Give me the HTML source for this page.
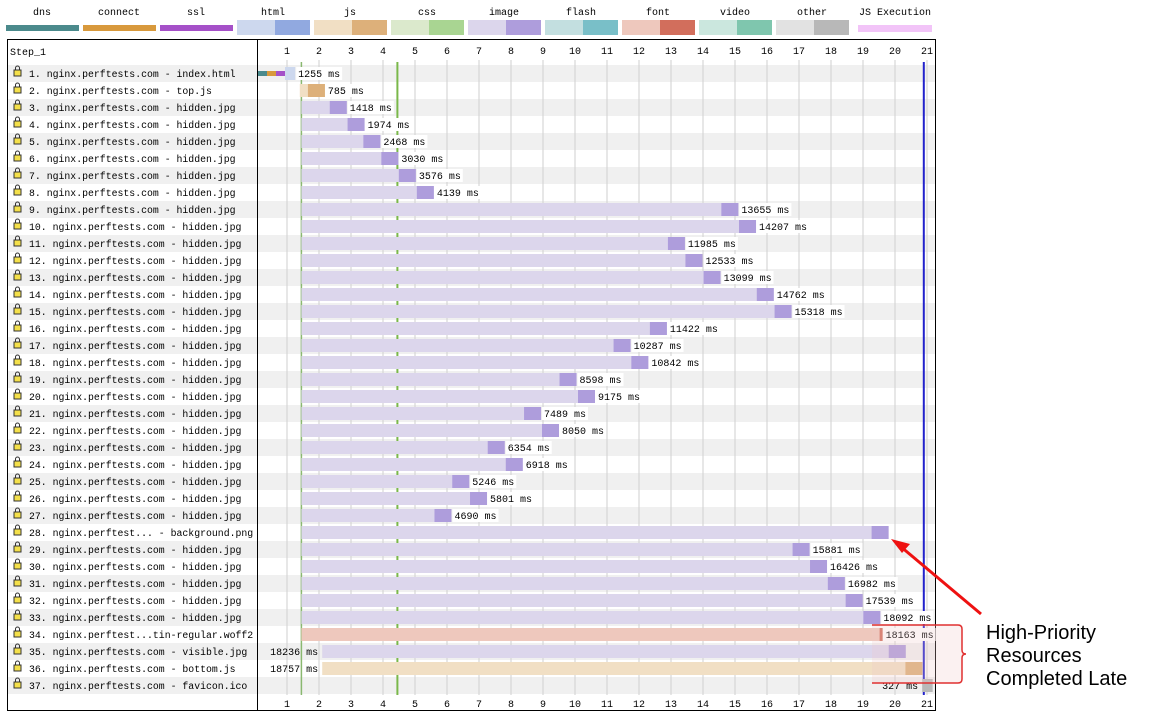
<!DOCTYPE html>
<html><head><meta charset="utf-8"><style>
html,body{margin:0;padding:0;background:#fff;width:1155px;height:712px;overflow:hidden}
svg{display:block}
text{font-family:"Liberation Mono",monospace;font-size:10px;fill:#000}
</style></head><body>
<svg id="chart" width="1155" height="712" xmlns="http://www.w3.org/2000/svg"></svg>
<script>
const rowLabels=["1. nginx.perftests.com - index.html","2. nginx.perftests.com - top.js","3. nginx.perftests.com - hidden.jpg","4. nginx.perftests.com - hidden.jpg","5. nginx.perftests.com - hidden.jpg","6. nginx.perftests.com - hidden.jpg","7. nginx.perftests.com - hidden.jpg","8. nginx.perftests.com - hidden.jpg","9. nginx.perftests.com - hidden.jpg","10. nginx.perftests.com - hidden.jpg","11. nginx.perftests.com - hidden.jpg","12. nginx.perftests.com - hidden.jpg","13. nginx.perftests.com - hidden.jpg","14. nginx.perftests.com - hidden.jpg","15. nginx.perftests.com - hidden.jpg","16. nginx.perftests.com - hidden.jpg","17. nginx.perftests.com - hidden.jpg","18. nginx.perftests.com - hidden.jpg","19. nginx.perftests.com - hidden.jpg","20. nginx.perftests.com - hidden.jpg","21. nginx.perftests.com - hidden.jpg","22. nginx.perftests.com - hidden.jpg","23. nginx.perftests.com - hidden.jpg","24. nginx.perftests.com - hidden.jpg","25. nginx.perftests.com - hidden.jpg","26. nginx.perftests.com - hidden.jpg","27. nginx.perftests.com - hidden.jpg","28. nginx.perftest... - background.png","29. nginx.perftests.com - hidden.jpg","30. nginx.perftests.com - hidden.jpg","31. nginx.perftests.com - hidden.jpg","32. nginx.perftests.com - hidden.jpg","33. nginx.perftests.com - hidden.jpg","34. nginx.perftest...tin-regular.woff2","35. nginx.perftests.com - visible.jpg","36. nginx.perftests.com - bottom.js","37. nginx.perftests.com - favicon.ico"];
const rowTypes=["html","js","image","image","image","image","image","image","image","image","image","image","image","image","image","image","image","image","image","image","image","image","image","image","image","image","image","image","image","image","image","image","image","font","image","js","other"];
const startMs=[0,1400,1450,1450,1450,1450,1450,1450,1450,1450,1450,1450,1450,1450,1450,1450,1450,1450,1450,1450,1450,1450,1450,1450,1450,1450,1450,1450,1450,1450,1450,1450,1450,1450,2100,2100,20850];
const durationMs=[1255,785,1418,1974,2468,3030,3576,4139,13655,14207,11985,12533,13099,14762,15318,11422,10287,10842,8598,9175,7489,8050,6354,6918,5246,5801,4690,18350,15881,16426,16982,17539,18092,18163,18236,18757,327];
const showLabel=[1,1,1,1,1,1,1,1,1,1,1,1,1,1,1,1,1,1,1,1,1,1,1,1,1,1,1,0,1,1,1,1,1,1,1,1,1];
const tickLabels=["1","2","3","4","5","6","7","8","9","10","11","12","13","14","15","16","17","18","19","20","21"];
const markerMs=[1450,4450,20900];
const legendNames=["dns","connect","ssl","html","js","css","image","flash","font","video","other","JS Execution"];
const colors={dns:["#4b8a8c","#4b8a8c"],connect:["#d8993c","#d8993c"],ssl:["#a550c8","#a550c8"],html:["#cdd8ee","#91a9e0"],js:["#f1dfc4","#ddb07a"],css:["#dbe9cc","#a9d592"],image:["#dcd6ec","#ae9ddc"],flash:["#c3dfe0","#79bfc8"],font:["#eec8bd","#d26e5c"],video:["#cbe7de","#7fc6ae"],other:["#e2e2e2","#b8b8b8"],"JS Execution":["#f2c4f8","#f2c4f8"]};
const NS="http://www.w3.org/2000/svg";
const svg=document.getElementById('chart');
function el(t,a,p){const e=document.createElementNS(NS,t);for(const k in a)e.setAttribute(k,a[k]);(p||svg).appendChild(e);return e;}
const x=ms=>255+32*ms/1000;
const rowY=i=>65+17*i;
legendNames.forEach((n,i)=>{
 const cx=i<11?42+77*i:895;
 const g=el('g',{});
 
 
 const t=el('text',{x:cx,y:15,'text-anchor':'middle'},g);t.textContent=n;
 const c=colors[n];
 if(n==="JS Execution"){el('rect',{x:cx-37,y:25,width:74,height:7,fill:c[0]},g);}
 else if(i<3){el('rect',{x:cx-36,y:25,width:73,height:6,fill:c[0]},g);}
 else{el('rect',{x:cx-36,y:20,width:38,height:15,fill:c[0]},g);el('rect',{x:cx+2,y:20,width:35,height:15,fill:c[1]},g);}
});
el('rect',{x:7.5,y:39.5,width:928,height:671,fill:'#fff',stroke:'#000'});
rowLabels.forEach((l,i)=>{if(i%2===0)el('rect',{x:8,y:rowY(i),width:927,height:17,fill:'#f0f0f0'});});
el('line',{x1:257.5,y1:40,x2:257.5,y2:711,stroke:'#000'});
const st=el('text',{x:10,y:55});st.textContent="Step_1";

tickLabels.forEach((t,i)=>{
 const xx=x((+t)*1000);
 el('line',{x1:xx,y1:60,x2:xx,y2:695,stroke:'#cfcfcf'});
 const a=el('text',{x:xx,y:54,'text-anchor':'middle'});a.textContent=t;
 
 const b=el('text',{x:xx,y:707,'text-anchor':'middle'});b.textContent=t;
 
});
const mcol=['#8ab870','#7ab84a','#2222cc'];
markerMs.forEach((m,i)=>{const ln=el('line',{x1:x(m),y1:62,x2:x(m),y2:695,stroke:mcol[i],'stroke-width':i===0?1.5:2});
 });
rowLabels.forEach((l,i)=>{
 const y=rowY(i);
 const g=el('g',{});
 
 
 el('rect',{x:14,y:y+5,width:7,height:6,fill:'#f4e04a',stroke:'#333','stroke-width':1},g);
 el('path',{d:`M15.5 ${y+5} v-2 a2 2 0 0 1 4 0 v2`,fill:'none',stroke:'#333'},g);
 const t=el('text',{x:29,y:y+12,textLength:l.length*5.9,lengthAdjust:'spacingAndGlyphs'},g);t.textContent=l;
 const c=colors[rowTypes[i]];
 const x0=x(startMs[i]),x1=x(startMs[i]+durationMs[i]);
 if(i===0){
  el('rect',{x:x0+3,y:y+6,width:9,height:5,fill:colors.dns[0]},g);
  el('rect',{x:x0+12,y:y+6,width:9,height:5,fill:colors.connect[0]},g);
  el('rect',{x:x0+21,y:y+6,width:9,height:5,fill:colors.ssl[0]},g);
  el('rect',{x:x0+30,y:y+2,width:x1-x0-30,height:13,fill:c[0]},g);
 } else {
  el('rect',{x:x0,y:y+2,width:x1-x0,height:13,fill:c[0]},g);
  const dw=rowTypes[i]==='font'?3:Math.min(17,x1-x0);
  el('rect',{x:x1-dw,y:y+2,width:dw,height:13,fill:c[1]},g);
 }
 if(showLabel[i]){
  const txt=durationMs[i]+" ms";
  let lt;
  if(i>=34){lt=el('text',{x:x0-4,y:y+12,'text-anchor':'end'},g);}
  else{el('rect',{x:x1+1,y:y+2,width:txt.length*6+4,height:13,fill:'#fff'},g);lt=el('text',{x:x1+3,y:y+12},g);}
  lt.textContent=txt;
 }
});
const ag=el('g',{});

el('path',{d:'M872 625 H958 Q962 625 962 629 V650 Q962 654 966 654 Q962 654 962 658 V679 Q962 683 958 683 H872',fill:'rgba(240,200,200,0.25)',stroke:'#e03030','stroke-width':1.5},ag);
el('line',{x1:981,y1:614,x2:900,y2:546,stroke:'#ee1111','stroke-width':3},ag);
el('path',{d:'M891 539 L910 544 L902 553 Z',fill:'#ee1111'},ag);
["High-Priority","Resources","Completed Late"].forEach((s,i)=>{const t=el('text',{x:986,y:639+23*i,style:'font-family:"Liberation Sans",sans-serif;font-size:20px'},ag);t.textContent=s;});
</script>
</body></html>
